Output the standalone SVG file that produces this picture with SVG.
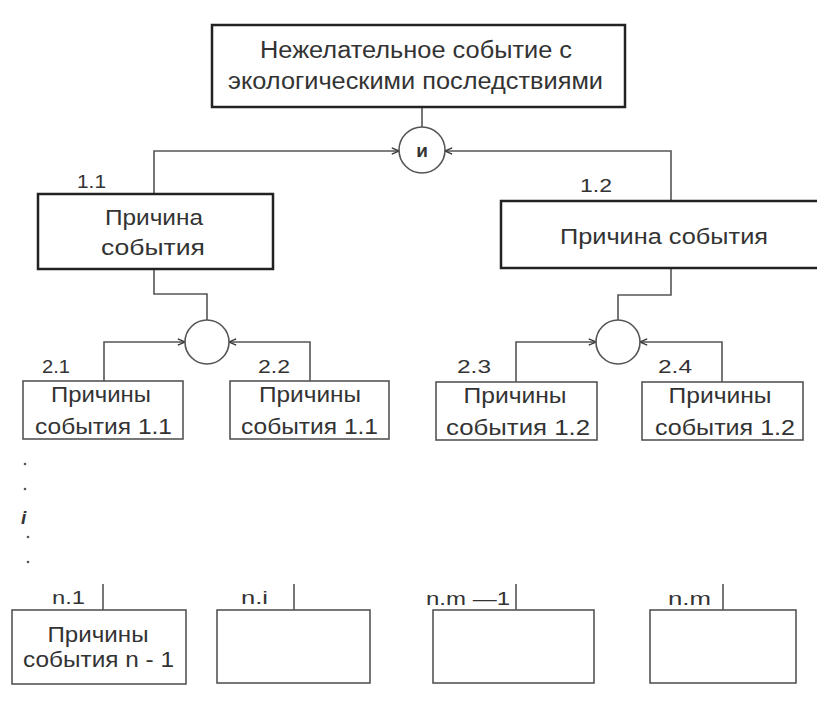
<svg xmlns="http://www.w3.org/2000/svg" width="817" height="708" viewBox="0 0 817 708">
<defs>
<style>
text{font-family:"Liberation Sans",Arial,sans-serif;fill:#333;}
.t{font-size:22px;text-anchor:middle;}
.big{font-size:23px;text-anchor:middle;}
.lbl{font-size:18px;}
.thick{fill:#fff;stroke:#222;stroke-width:2.5;}
.thin{fill:#fff;stroke:#555;stroke-width:1.6;}
.gate{fill:#fff;stroke:#555;stroke-width:1.6;}
.c{fill:none;stroke:#555;stroke-width:1.6;}
</style>
<marker id="ar" viewBox="0 0 10 10" refX="10" refY="5" markerWidth="8" markerHeight="8" markerUnits="userSpaceOnUse" orient="auto">
<path d="M1,1 L10,5 L1,9" fill="none" stroke="#333" stroke-width="1.6"/>
</marker>
</defs>
<rect width="817" height="708" fill="#fff"/>

<g id="connectors">
<line class="c" x1="422" y1="107" x2="422" y2="127"/>
<polyline class="c" points="154,194 154,151 399,151" marker-end="url(#ar)"/>
<polyline class="c" points="671,201 671,151 445,151" marker-end="url(#ar)"/>
<polyline class="c" points="154,269 154,294 207,294 207,320"/>
<polyline class="c" points="104,381 104,342 185,342" marker-end="url(#ar)"/>
<polyline class="c" points="310,381 310,342 229,342" marker-end="url(#ar)"/>
<polyline class="c" points="671,268 671,295 618,295 618,320"/>
<polyline class="c" points="516,382 516,342 596,342" marker-end="url(#ar)"/>
<polyline class="c" points="722,382 722,342 640,342" marker-end="url(#ar)"/>
<line class="c" x1="103" y1="584" x2="103" y2="610"/>
<line class="c" x1="294" y1="584" x2="294" y2="610"/>
<line class="c" x1="516" y1="584" x2="516" y2="610"/>
<line class="c" x1="723" y1="584" x2="723" y2="610"/>
</g>

<g id="top">
<rect class="thick" x="212" y="25" width="413" height="82"/>
<text class="big" x="416" y="58" textLength="312" lengthAdjust="spacingAndGlyphs">Нежелательное событие с</text>
<text class="big" x="415.5" y="89" textLength="375" lengthAdjust="spacingAndGlyphs">экологическими последствиями</text>
</g>

<g id="gate-and">
<circle class="gate" cx="422" cy="150" r="23"/>
<text x="422" y="157" style="font-size:19px;font-weight:bold;text-anchor:middle;">и</text>
</g>

<g id="n11">
<rect class="thick" x="38" y="194" width="235" height="75"/>
<text class="lbl" x="77" y="188" textLength="29" lengthAdjust="spacingAndGlyphs">1.1</text>
<text class="t" x="154" y="225" textLength="98" lengthAdjust="spacingAndGlyphs">Причина</text>
<text class="t" x="153" y="255" textLength="104" lengthAdjust="spacingAndGlyphs">события</text>
</g>

<g id="n12">
<rect class="thick" x="501" y="201" width="330" height="67"/>
<text class="lbl" x="580" y="192" textLength="32" lengthAdjust="spacingAndGlyphs">1.2</text>
<text class="t" x="664" y="244" textLength="208" lengthAdjust="spacingAndGlyphs">Причина события</text>
</g>

<g id="gate-l">
<circle class="gate" cx="207" cy="342" r="22"/>
</g>
<g id="gate-r">
<circle class="gate" cx="618" cy="342" r="22"/>
</g>

<g id="n21">
<rect class="thin" x="23" y="381" width="160" height="58"/>
<text class="lbl" x="42" y="373" textLength="28" lengthAdjust="spacingAndGlyphs">2.1</text>
<text class="t" x="101" y="402" textLength="100" lengthAdjust="spacingAndGlyphs">Причины</text>
<text class="t" x="103.5" y="434" textLength="137" lengthAdjust="spacingAndGlyphs">события 1.1</text>
</g>

<g id="n22">
<rect class="thin" x="230" y="381" width="159" height="58"/>
<text class="lbl" x="258" y="373" textLength="32" lengthAdjust="spacingAndGlyphs">2.2</text>
<text class="t" x="310" y="402" textLength="102" lengthAdjust="spacingAndGlyphs">Причины</text>
<text class="t" x="309.5" y="434" textLength="137" lengthAdjust="spacingAndGlyphs">события 1.1</text>
</g>

<g id="n23">
<rect class="thin" x="436" y="382" width="161" height="58"/>
<text class="lbl" x="457" y="373" textLength="34" lengthAdjust="spacingAndGlyphs">2.3</text>
<text class="t" x="515" y="403" textLength="103" lengthAdjust="spacingAndGlyphs">Причины</text>
<text class="t" x="518" y="435" textLength="144" lengthAdjust="spacingAndGlyphs">события 1.2</text>
</g>

<g id="n24">
<rect class="thin" x="642" y="382" width="161" height="58"/>
<text class="lbl" x="658" y="373" textLength="34" lengthAdjust="spacingAndGlyphs">2.4</text>
<text class="t" x="720" y="403" textLength="103" lengthAdjust="spacingAndGlyphs">Причины</text>
<text class="t" x="725" y="435" textLength="140" lengthAdjust="spacingAndGlyphs">события 1.2</text>
</g>

<g id="ellipsis">
<circle cx="25" cy="464" r="1.3" fill="#555"/>
<circle cx="25" cy="489" r="1.3" fill="#555"/>
<text x="21" y="524" style="font-size:19px;font-style:italic;font-weight:bold;">i</text>
<circle cx="28" cy="537" r="1.3" fill="#555"/>
<circle cx="28" cy="562" r="1.3" fill="#555"/>
</g>

<g id="nn1">
<rect class="thin" x="12" y="610" width="174" height="74"/>
<text class="lbl" x="52" y="604" textLength="33" lengthAdjust="spacingAndGlyphs">n.1</text>
<text class="t" x="98" y="642" textLength="101" lengthAdjust="spacingAndGlyphs">Причины</text>
<text class="t" x="98.5" y="667" textLength="151" lengthAdjust="spacingAndGlyphs">события n - 1</text>
</g>

<g id="nni">
<rect class="thin" x="217" y="610" width="153" height="73"/>
<text class="lbl" x="241" y="604" textLength="27" lengthAdjust="spacingAndGlyphs">n.i</text>
</g>

<g id="nnm1">
<rect class="thin" x="433" y="610" width="161" height="73"/>
<text class="lbl" x="426" y="605" textLength="84" lengthAdjust="spacingAndGlyphs">n.m —1</text>
</g>

<g id="nnm">
<rect class="thin" x="650" y="610" width="146" height="73"/>
<text class="lbl" x="668" y="605" textLength="43" lengthAdjust="spacingAndGlyphs">n.m</text>
</g>
</svg>
